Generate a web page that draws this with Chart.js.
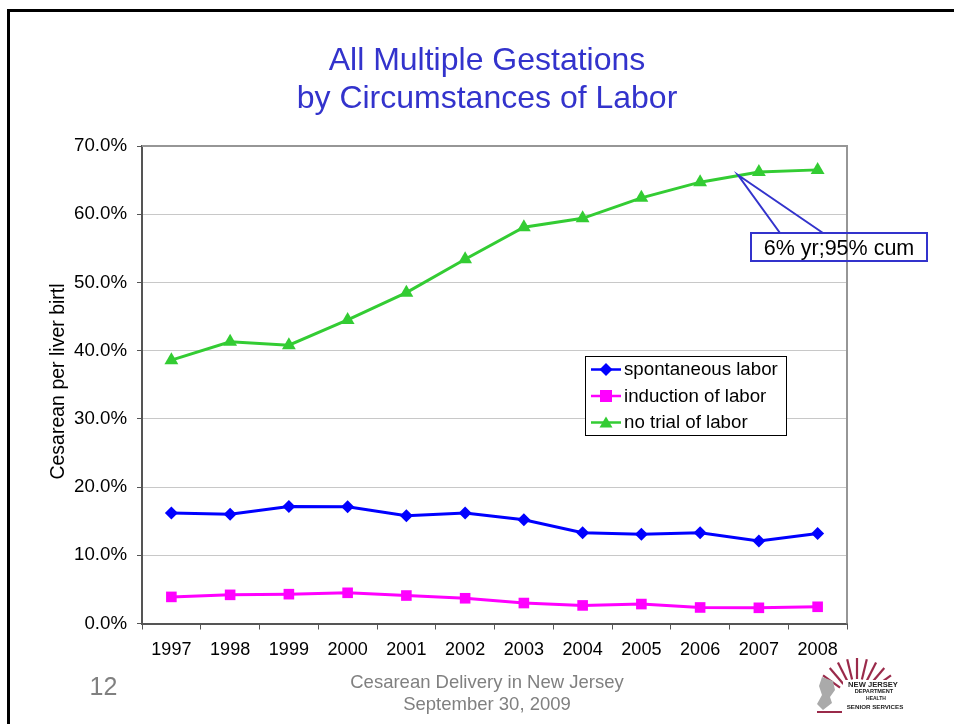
<!DOCTYPE html>
<html><head><meta charset="utf-8">
<style>html,body{margin:0;padding:0;background:#fff}#w{position:relative;width:954px;height:724px}canvas{display:block}</style>
<script src="https://cdn.jsdelivr.net/npm/chart.js@4"></script>
</head><body><div id="w"><canvas id="c" width="954" height="724"></canvas></div>
<script>
const years = ['1997','1998','1999','2000','2001','2002','2003','2004','2005','2006','2007','2008'];
const spontaneous = [16.2,16.0,17.15,17.1,15.8,16.2,15.2,13.3,13.1,13.3,12.1,13.2];
const induction = [3.9,4.2,4.3,4.5,4.1,3.7,3.0,2.65,2.85,2.35,2.3,2.45];
const noTrial = [38.6,41.3,40.8,44.5,48.5,53.4,58.1,59.4,62.4,64.7,66.2,66.5];
const titleLines = ['All Multiple Gestations','by Circumstances of Labor'];
const footerLines = ['Cesarean Delivery in New Jersey','September 30, 2009'];
const yAxisTitle = 'Cesarean per liver birtl';
const FONT = '"Liberation Sans", Arial, sans-serif';
const TITLE = '#3333cc';

function text(ctx, s, x, y, font, color, align) {
  ctx.font = font; ctx.fillStyle = color; ctx.textAlign = align || 'left'; ctx.textBaseline = 'middle';
  ctx.fillText(s, x, y);
}
function marker(ctx, kind, x, y, color) {
  ctx.fillStyle = color; ctx.beginPath();
  if (kind === 'diamond') { ctx.moveTo(x,y-6.5); ctx.lineTo(x+6.5,y); ctx.lineTo(x,y+6.5); ctx.lineTo(x-6.5,y); }
  if (kind === 'square') { ctx.rect(x-6,y-6,12,12); }
  if (kind === 'triangle') { ctx.moveTo(x,y-6); ctx.lineTo(x+6.5,y+5); ctx.lineTo(x-6.5,y+5); }
  ctx.closePath(); ctx.fill();
}
const slide = {
  id: 'slide',
  beforeDraw(chart) {
    const c = chart.ctx;
    c.save();
    c.fillStyle = '#fff'; c.fillRect(0,0,954,724);
    c.strokeStyle = '#000'; c.lineWidth = 3;
    c.beginPath(); c.moveTo(8.5,724); c.lineTo(8.5,10.5); c.lineTo(954,10.5); c.stroke();
    text(c, titleLines[0], 487, 61.5, '32px '+FONT, TITLE, 'center');
    text(c, titleLines[1], 487, 99.5, '32px '+FONT, TITLE, 'center');
    text(c, '12', 103.5, 688, '25px '+FONT, '#808080', 'center');
    text(c, footerLines[0], 487, 682.5, '18.5px '+FONT, '#808080', 'center');
    text(c, footerLines[1], 487, 704.5, '18.5px '+FONT, '#808080', 'center');
    c.translate(58.5, 381.5); c.rotate(-Math.PI/2);
    text(c, yAxisTitle, 0, 0, '19.5px '+FONT, '#000', 'center');
    c.restore();
  },
  beforeDatasetsDraw(chart) {
    const c = chart.ctx, a = chart.chartArea;
    c.save();
    c.strokeStyle = '#969696'; c.lineWidth = 2;
    c.beginPath(); c.moveTo(a.left,a.top); c.lineTo(a.right,a.top); c.lineTo(a.right,a.bottom); c.stroke();
    c.restore();
  },
  afterDraw(chart) {
    const c = chart.ctx;
    c.save();
    // legend
    c.fillStyle = '#fff'; c.fillRect(585.5,356.5,201,79);
    c.strokeStyle = '#000'; c.lineWidth = 1; c.strokeRect(585.5,356.5,201,79);
    const rows = [['spontaneous labor','#0000ff','diamond',369.5],['induction of labor','#ff00ff','square',396],['no trial of labor','#33cc33','triangle',422.5]];
    rows.forEach(r => {
      c.strokeStyle = r[1]; c.lineWidth = 2.5;
      c.beginPath(); c.moveTo(591,r[3]); c.lineTo(621,r[3]); c.stroke();
      marker(c, r[2], 606, r[3], r[1]);
      text(c, r[0], 624, r[3]+0.5, '18.7px '+FONT, '#000');
    });
    // callout
    c.strokeStyle = TITLE; c.lineWidth = 2;
    c.strokeRect(751,233,176,28);
    c.beginPath(); c.moveTo(780,233); c.lineTo(738,175); c.lineTo(823,233); c.stroke();
    text(c, '6% yr;95% cum', 839, 249, '21.5px '+FONT, '#000', 'center');
    // logo
    const cx = 857, cy = 700;
    c.strokeStyle = '#9a2a4a'; c.lineWidth = 2.2;
    for (let i = 0; i < 9; i++) {
      const t = Math.PI * (1.2 + i * 0.075);
      c.beginPath();
      c.moveTo(cx + 21*Math.cos(t), cy + 21*Math.sin(t));
      c.lineTo(cx + 42*Math.cos(t), cy + 42*Math.sin(t));
      c.stroke();
    }
    c.fillStyle = '#fff'; c.fillRect(843,680,64,32);
    c.fillStyle = '#aaaaaa'; c.beginPath();
    c.moveTo(822,677); c.lineTo(833,681); c.lineTo(835,690); c.lineTo(830,697); c.lineTo(832,703); c.lineTo(823,710); c.lineTo(817,704); c.lineTo(822,695); c.lineTo(819,686); c.closePath(); c.fill();
    text(c, 'NEW JERSEY', 873, 684.5, 'bold 7.6px '+FONT, '#222', 'center');
    text(c, 'DEPARTMENT', 874, 691.5, 'bold 5.6px '+FONT, '#222', 'center');
    text(c, 'HEALTH', 876, 698.5, 'bold 5px '+FONT, '#222', 'center');
    text(c, 'SENIOR SERVICES', 875, 707, 'bold 6.2px '+FONT, '#222', 'center');
    c.fillStyle = '#9a2a4a'; c.fillRect(817,711,25,2);
    c.restore();
  }
};
const ds = (label, data, color, style, r) => ({
  label, data, borderColor: color, backgroundColor: color, borderWidth: 3,
  pointStyle: style, pointRadius: r, pointBorderColor: color, pointBackgroundColor: color,
  pointBorderWidth: 0, tension: 0, clip: false
});
new Chart(document.getElementById('c'), {
  type: 'line',
  data: { labels: years, datasets: [
    ds('spontaneous labor', spontaneous, '#0000ff', 'rectRot', 6.5),
    ds('induction of labor', induction, '#ff00ff', 'rect', 7.5),
    ds('no trial of labor', noTrial, '#33cc33', 'triangle', 8)
  ]},
  options: {
    responsive: false, animation: false,
    layout: { padding: { left: 0, top: 146, right: 107, bottom: 0 } },
    plugins: { legend: { display: false }, title: { display: false }, tooltip: { enabled: false } },
    scales: {
      x: {
        offset: true,
        afterFit(s) { s.height = 724 - 623.5; },
        grid: { offset: true, drawOnChartArea: false, drawTicks: true, tickLength: 6, color: '#555555' },
        border: { color: '#555555', width: 2 },
        ticks: { color: '#000', font: { size: 18, family: FONT }, padding: 10, maxRotation: 0, autoSkip: false }
      },
      y: {
        min: 0, max: 70,
        afterFit(s) { s.width = 142; },
        grid: { color: '#c8c8c8', lineWidth: 1, drawTicks: true, tickLength: 5, tickColor: '#555555' },
        border: { color: '#555555', width: 2 },
        ticks: { stepSize: 10, color: '#000', font: { size: 18.7, family: FONT }, padding: 10,
          callback: v => v.toFixed(1) + '%' }
      }
    }
  },
  plugins: [slide]
});
</script></body></html>
